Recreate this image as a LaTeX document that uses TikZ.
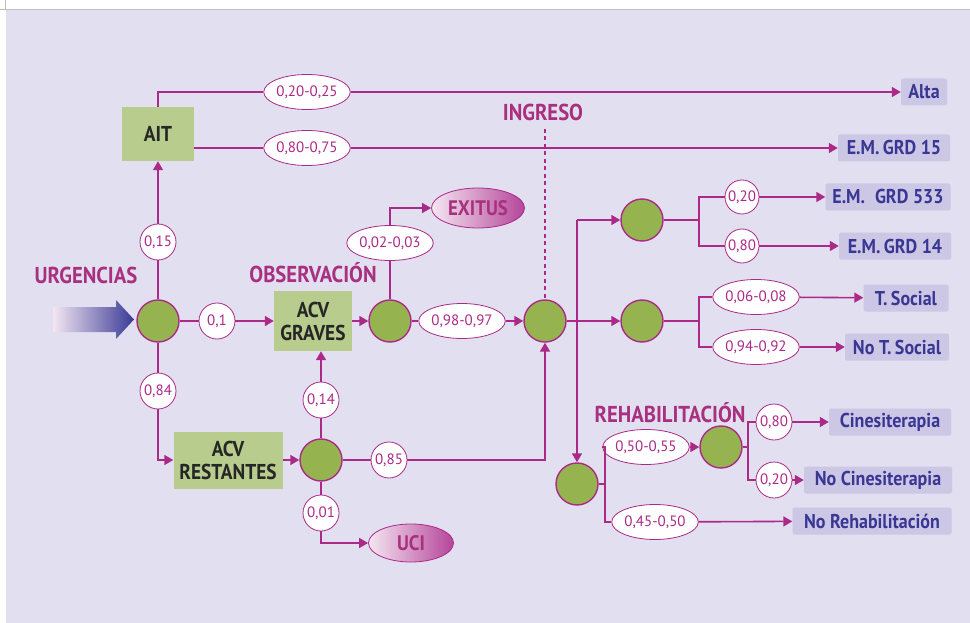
\documentclass[tikz,border=0pt]{standalone}
\usepackage{fontspec}
\setmainfont{PT Sans}
\newfontfamily\condfont[FakeStretch=0.9]{PT Sans}
\usetikzlibrary{arrows.meta,shapes.geometric}
\definecolor{bgcol}{HTML}{E2DFF0}
\definecolor{linecol}{HTML}{AB2A87}
\definecolor{labcol}{HTML}{A8307F}
\definecolor{stagegreen}{HTML}{95B44F}
\definecolor{boxgreen}{HTML}{B8CD8D}
\definecolor{outblue}{HTML}{CBC7E5}
\definecolor{outtext}{HTML}{3A3794}
\definecolor{endleft}{HTML}{F4E6F1}
\definecolor{endright}{HTML}{B5459A}
\definecolor{arrowleft}{HTML}{F3E6F1}
\definecolor{arrowright}{HTML}{3A3A96}
\begin{document}
\begin{tikzpicture}[x=1pt,y=-1pt,
    link/.style={draw=linecol,line width=1.6pt},
    arr/.style={link,-{Triangle[length=9pt,width=10pt]}},
    prob/.style={circle,draw=linecol,fill=white,line width=0.8pt,minimum size=36pt,inner sep=0pt,text=linecol,font=\fontsize{15}{15}\selectfont},
    probw/.style={prob,ellipse,minimum width=68pt,minimum height=35pt},
    stage/.style={circle,draw=linecol,fill=stagegreen,line width=1.4pt,minimum size=42pt,inner sep=0pt},
    box/.style={fill=boxgreen,inner sep=0pt,align=center,text=black!85,font=\condfont\bfseries\fontsize{21.5}{23}\selectfont},
    outbox/.style={fill=outblue,rounded corners=2pt,inner sep=0pt,minimum height=27pt,text=outtext,font=\condfont\bfseries\fontsize{20}{20}\selectfont},
    stagelab/.style={anchor=base,inner sep=0pt,text=labcol,font=\condfont\bfseries\fontsize{23}{23}\selectfont},
    endnode/.style={ellipse,draw=linecol,line width=0.8pt,left color=endleft,right color=endright,inner sep=0pt,text=labcol,font=\condfont\bfseries\fontsize{21}{21}\selectfont}]
    \useasboundingbox (0,0) rectangle (970,623);
    \fill[white] (0,0) rectangle (970,623);
    \fill[bgcol] (6,10) rectangle (970,623);
    \draw[black!25,line width=1pt] (0,9.5) -- (970,9.5);
    \draw[black!25,line width=1pt] (5.5,0) -- (5.5,10);
    \shade[left color=arrowleft,right color=arrowright] (53,307) -- (116,307) -- (116,300) -- (134,319.5) -- (116,339) -- (116,332) -- (53,332) -- cycle;

    \node[stagelab] (urglab) at (86,283) {URGENCIAS};
    \node[stagelab] (obslab) at (313,282) {OBSERVACIÓN};
    \node[stagelab] (inglab) at (543,121) {INGRESO};
    \node[stagelab] (rehlab) at (670,422) {REHABILITACIÓN};

    \node[stage] (urg) at (158,321) {};
    \node[box,minimum width=72pt,minimum height=54pt] (ait) at (158,134) {AIT};
    \node[prob] (p015) at (158,242) {0,15};
    \node[prob] (p084) at (158,391) {0,84};
    \node[prob] (p01) at (217,321) {0,1};
    \node[probw] (p2025) at (307,92) {0,20-0,25};
    \node[probw] (p8075) at (307,148) {0,80-0,75};
    \node[outbox,minimum width=46pt] (alta) at (924,92) {Alta};
    \node[outbox,minimum width=112pt] (em15) at (894,148) {E.M.\,GRD 15};

    \node[box,minimum width=78pt,minimum height=60pt] (graves) at (313,321) {ACV\\GRAVES};
    \node[stage] (obs) at (390,321) {};
    \node[probw] (p0203) at (390,243) {0,02-0,03};
    \node[endnode,minimum width=93pt,minimum height=40pt] (exitus) at (478,208) {EXITUS};
    \node[probw] (p9897) at (462,321) {0,98-0,97};
    \node[stage] (ing) at (545,321) {};

    \node[box,minimum width=109pt,minimum height=57pt] (rest) at (228,460) {ACV\\RESTANTES};
    \node[stage] (sev) at (321,460) {};
    \node[prob] (p014) at (321,400) {0,14};
    \node[prob] (p085) at (389,460) {0,85};
    \node[prob] (p001) at (321,513) {0,01};
    \node[endnode,minimum width=85pt,minimum height=38pt] (uci) at (411,543) {UCI};

    \node[stage] (ca) at (642,220) {};
    \node[stage] (cb) at (642,321) {};
    \node[prob,minimum size=34pt] (p020a) at (742,197) {0,20};
    \node[prob,minimum size=34pt] (p080a) at (742,246) {0,80};
    \node[outbox,minimum width=125pt] (em533) at (888,197) {E.M.\enspace GRD 533};
    \node[outbox,minimum width=112pt] (em14) at (895,246) {E.M.\,GRD 14};
    \node[probw,minimum width=65pt] (p0608) at (756,297) {0,06-0,08};
    \node[probw,minimum width=65pt] (p9492) at (756,347) {0,94-0,92};
    \node[outbox,minimum width=85pt] (tsoc) at (906,298) {T.\,Social};
    \node[outbox,minimum width=104pt] (notsoc) at (897,347) {No T.\,Social};

    \node[stage] (rs) at (577,484) {};
    \node[probw,minimum width=66pt] (p5055) at (646,447) {0,50-0,55};
    \node[probw,minimum width=66pt] (p4550) at (655,522) {0,45-0,50};
    \node[stage] (rh) at (721,447) {};
    \node[prob] (p080b) at (774,422) {0,80};
    \node[prob] (p020b) at (774,480) {0,20};
    \node[outbox,minimum width=122pt] (cine) at (890,422) {Cinesiterapia};
    \node[outbox,minimum width=148pt] (nocine) at (878,480) {No Cinesiterapia};
    \node[outbox,minimum width=159pt] (noreh) at (872,521) {No Rehabilitación};

    \draw[link] (urg) -- (p015);
    \draw[arr] (p015) -- (ait);
    \draw[link] (ait.north) |- (p2025);
    \draw[arr] (p2025) -- (alta);
    \draw[link] (ait.east |- p8075) -- (p8075);
    \draw[arr] (p8075) -- (em15);
    \draw[link] (urg) -- (p01);
    \draw[arr] (p01) -- (graves);
    \draw[arr] (graves) -- (obs);
    \draw[link] (obs) -- (p0203);
    \draw[arr] (p0203) |- (exitus);
    \draw[link] (obs) -- (p9897);
    \draw[arr] (p9897) -- (ing);
    \draw[link] (urg) -- (p084);
    \draw[arr] (p084) |- (rest);
    \draw[arr] (rest) -- (sev);
    \draw[link] (sev) -- (p014);
    \draw[arr] (p014) -- (p014 |- graves.south);
    \draw[link] (sev) -- (p085);
    \draw[arr] (p085) -| (ing);
    \draw[link] (sev) -- (p001);
    \draw[arr] (p001) |- (uci);
    \draw[link,dash pattern=on 4pt off 3.5pt,shorten <=7pt] (ing |- inglab.south) -- (ing);

    \coordinate (sp) at (577,220);
    \draw[arr] (ing) -- (cb);
    \draw[arr] (sp) -- (ca);
    \draw[arr] (sp) -- (rs);
    \coordinate (sa) at (699,220);
    \draw[link] (ca) -- (sa) |- (p020a);
    \draw[link] (sa) |- (p080a);
    \draw[arr] (p020a) -- (em533);
    \draw[arr] (p080a) -- (em14);
    \coordinate (sb) at (699,321);
    \draw[link] (cb) -- (sb) |- (p0608);
    \draw[link] (sb) |- (p9492);
    \draw[arr] (p0608) -- (tsoc);
    \draw[arr] (p9492) -- (notsoc);
    \coordinate (sr) at (605,484);
    \draw[link] (rs) -- (sr) |- (p5055);
    \draw[link] (sr) |- (p4550);
    \draw[arr] (p5055) -- (rh);
    \draw[arr] (p4550) -- (noreh);
    \coordinate (sh) at (748,447);
    \draw[link] (rh) -- (sh) |- (p080b);
    \draw[link] (sh) |- (p020b);
    \draw[arr] (p080b) -- (cine);
    \draw[arr] (p020b) -- (nocine);
\end{tikzpicture}
\end{document}
